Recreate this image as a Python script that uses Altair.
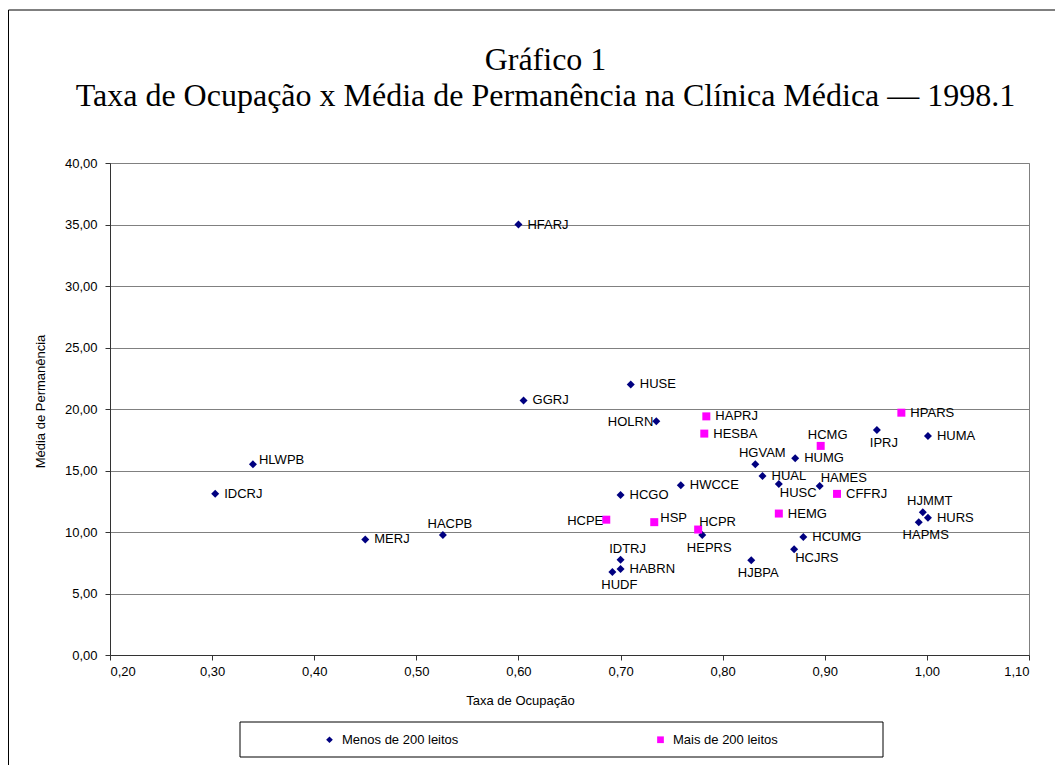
import altair as alt
import pandas as pd

# ---- data ----
groups = ["Menos de 200 leitos", "Mais de 200 leitos"]
group_colors = ["#000080", "#FF00FF"]
group_shapes = ["diamond", "square"]

names_small = ["HFARJ", "GGRJ", "HUSE", "HOLRN", "HLWPB", "IDCRJ", "MERJ", "HACPB", "HCGO",
               "HWCCE", "HGVAM", "HUAL", "HUSC", "HAMES", "HUMG", "IPRJ", "HUMA", "HJMMT",
               "HURS", "HAPMS", "HCUMG", "HCJRS", "HJBPA", "HEPRS", "IDTRJ", "HABRN", "HUDF"]
ocup_small = [0.600, 0.605, 0.710, 0.735, 0.340, 0.303, 0.450, 0.526, 0.700,
              0.759, 0.832, 0.839, 0.855, 0.895, 0.871, 0.951, 1.001, 0.996,
              1.001, 0.992, 0.879, 0.870, 0.828, 0.780, 0.700, 0.700, 0.692]
perm_small = [35.0, 20.7, 22.0, 19.0, 15.5, 13.1, 9.4, 9.75, 13.0,
              13.8, 15.5, 14.55, 13.9, 13.75, 16.0, 18.3, 17.8, 11.6,
              11.15, 10.8, 9.6, 8.6, 7.7, 9.75, 7.75, 7.0, 6.75]
pos_small = ["r", "r", "r", "l", "rt", "r", "r", "t", "r",
             "r", "t", "r", "br", "tr", "r", "b", "r", "t",
             "r", "b", "r", "br", "b", "b", "t", "r", "b"]

names_large = ["HAPRJ", "HESBA", "HCMG", "HPARS", "CFFRJ", "HEMG", "HCPR", "HSP", "HCPE"]
ocup_large = [0.784, 0.782, 0.896, 0.975, 0.912, 0.855, 0.776, 0.733, 0.686]
perm_large = [19.4, 18.0, 17.0, 19.7, 13.1, 11.5, 10.2, 10.8, 11.0]
pos_large = ["r", "r", "t", "r", "r", "r", "tr", "rt", "l"]

x_ticks = [0.2, 0.3, 0.4, 0.5, 0.6, 0.7, 0.8, 0.9, 1.0, 1.1]
y_ticks = [0, 5, 10, 15, 20, 25, 30, 35, 40]

title_lines = ["Gráfico 1",
               "Taxa de Ocupação x Média de Permanência na Clínica Médica — 1998.1"]

# ---- table ----
df = pd.DataFrame({
    "nome": names_small + names_large,
    "ocup": ocup_small + ocup_large,
    "perm": perm_small + perm_large,
    "grupo": [groups[0]] * len(names_small) + [groups[1]] * len(names_large),
    "pos": pos_small + pos_large,
})

label_style = {
    "r": dict(align="left", dx=9, dy=0),
    "rt": dict(align="left", dx=6, dy=-4),
    "l": dict(align="right", dx=-3, dy=1),
    "t": dict(align="center", dx=7, dy=-11),
    "tr": dict(align="left", dx=1, dy=-8),
    "b": dict(align="center", dx=7, dy=13),
    "br": dict(align="left", dx=1, dy=9),
}

FONT = "Liberation Sans"
comma_fmt = "replace(format(datum.value, '.2f'), '.', ',')"

xenc = alt.X("ocup:Q",
             scale=alt.Scale(domain=[0.2, 1.1], nice=False, zero=False),
             axis=alt.Axis(values=x_ticks, title="Taxa de Ocupação", labelExpr=comma_fmt,
                           grid=False, labelPadding=5, titlePadding=16, titleX=410))
yenc = alt.Y("perm:Q",
             scale=alt.Scale(domain=[0, 40], nice=False, zero=True),
             axis=alt.Axis(values=y_ticks, title="Média de Permanência", labelExpr=comma_fmt,
                           grid=True, labelPadding=8, titlePadding=17, titleY=238))

legend = alt.Legend(orient="none", legendX=213, legendY=570, direction="horizontal",
                    title=None, labelFont=FONT, labelFontSize=13, labelColor="black",
                    symbolSize=45, columnPadding=195, labelOffset=6, padding=0,
                    symbolStrokeWidth=0)

base = alt.Chart(df)

points = base.mark_point(filled=True, opacity=1, size=64).encode(
    x=xenc, y=yenc,
    color=alt.Color("grupo:N", scale=alt.Scale(domain=groups, range=group_colors), legend=legend),
    shape=alt.Shape("grupo:N", scale=alt.Scale(domain=groups, range=group_shapes), legend=legend),
)

label_layers = []
for key, st in label_style.items():
    label_layers.append(
        base.transform_filter(alt.datum.pos == key)
        .mark_text(font=FONT, fontSize=13, color="black", baseline="middle", **st)
        .encode(x="ocup:Q", y="perm:Q", text="nome:N")
    )

one = alt.Chart(pd.DataFrame({"k": [0]}))
legend_box = one.mark_rect(fill="transparent", stroke="black", strokeWidth=1).encode(
    x=alt.value(130), x2=alt.value(773), y=alt.value(559), y2=alt.value(594))
frame_top = one.mark_rule(color="black", strokeWidth=1).encode(
    x=alt.value(-101.5), x2=alt.value(1000), y=alt.value(-153))
frame_left = one.mark_rule(color="black", strokeWidth=1).encode(
    x=alt.value(-101.5), y=alt.value(-153), y2=alt.value(700))

chart = alt.layer(frame_top, frame_left, legend_box, points, *label_layers).properties(
    width=919, height=492,
    padding={"left": 102, "top": 155, "right": 26, "bottom": 110},
    autosize=alt.AutoSizeParams(type="none"),
    background="white",
    title=alt.TitleParams(text=title_lines, font="Liberation Serif", fontSize=32,
                          fontWeight="normal", lineHeight=36, anchor="middle",
                          frame="group", dx=-24, offset=-103.5, color="black"),
).configure_view(stroke="#808080", strokeWidth=1).configure_axis(
    labelFont=FONT, labelFontSize=13, labelColor="black",
    titleFont=FONT, titleFontSize=13, titleFontWeight="normal", titleColor="black",
    domainColor="#333333", tickColor="#333333", tickSize=5,
    gridColor="#808080", gridOpacity=1, gridWidth=1,
)

chart.save("out.html", embed_options={"renderer": "svg", "actions": False})
